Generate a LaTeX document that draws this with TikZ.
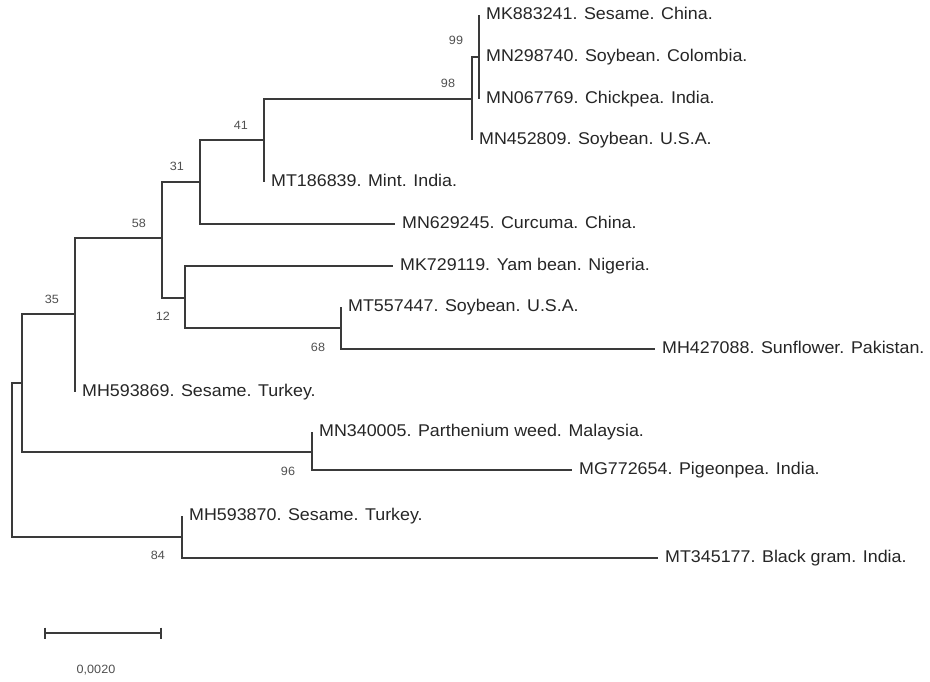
\documentclass[tikz,border=0pt]{standalone}
\usepackage{fontspec}
\setmainfont[FakeStretch=1.05]{Liberation Sans}
\definecolor{treeline}{HTML}{3A3A3A}
\definecolor{leaftext}{HTML}{262626}
\definecolor{boottext}{HTML}{505050}
\begin{document}
\begin{tikzpicture}[x=1pt,y=-1pt,
  branch/.style={draw=treeline,line width=1.2pt},
  leaf/.style={anchor=base west,inner sep=0pt,xshift=7pt,yshift=-4.6pt,text=leaftext,font=\fontsize{17}{20}\selectfont},
  boot/.style={anchor=center,inner sep=0pt,text=boottext,font=\fontsize{12}{14}\selectfont}]
\useasboundingbox[fill=white] (0,0) rectangle (930,681);
% internal nodes (x, y where the parent branch enters)
\coordinate (root) at (12,460);
\coordinate (nA)   at (22,383);
\coordinate (n35)  at (75,314);
\coordinate (n58)  at (162,238);
\coordinate (n31)  at (200,182);
\coordinate (n41)  at (264,140);
\coordinate (n98)  at (472,99);
\coordinate (n99)  at (479,57);
\coordinate (n12)  at (185,298);
\coordinate (n68)  at (341,328);
\coordinate (n96)  at (312,452);
\coordinate (n84)  at (182,537);
% leaf tips
\coordinate (lMK883241) at (479,15);
\coordinate (lMN298740) at (479,57);
\coordinate (lMN067769) at (479,99);
\coordinate (lMN452809) at (472,140);
\coordinate (lMT186839) at (264,182);
\coordinate (lMN629245) at (395,224);
\coordinate (lMK729119) at (393,266);
\coordinate (lMT557447) at (341,307);
\coordinate (lMH427088) at (655,349);
\coordinate (lMH593869) at (75,392);
\coordinate (lMN340005) at (312,432);
\coordinate (lMG772654) at (572,470);
\coordinate (lMH593870) at (182,516);
\coordinate (lMT345177) at (658,558);
% branches
\draw[branch] (root) |- (nA);
\draw[branch] (root) |- (n84);
\draw[branch] (nA) |- (n35);
\draw[branch] (nA) |- (n96);
\draw[branch] (n35) |- (n58);
\draw[branch] (n35) |- (lMH593869);
\draw[branch] (n58) |- (n31);
\draw[branch] (n58) |- (n12);
\draw[branch] (n31) |- (n41);
\draw[branch] (n31) |- (lMN629245);
\draw[branch] (n41) |- (n98);
\draw[branch] (n41) |- (lMT186839);
\draw[branch] (n98) |- (n99);
\draw[branch] (n98) |- (lMN452809);
\draw[branch] (n99) |- (lMK883241);
\draw[branch] (n99) |- (lMN298740);
\draw[branch] (n99) |- (lMN067769);
\draw[branch] (n12) |- (lMK729119);
\draw[branch] (n12) |- (n68);
\draw[branch] (n68) |- (lMT557447);
\draw[branch] (n68) |- (lMH427088);
\draw[branch] (n96) |- (lMN340005);
\draw[branch] (n96) |- (lMG772654);
\draw[branch] (n84) |- (lMH593870);
\draw[branch] (n84) |- (lMT345177);
% leaf labels
\node[leaf] (tMK883241) at (lMK883241) {MK883241. Sesame. China.};
\node[leaf] (tMN298740) at (lMN298740) {MN298740. Soybean. Colombia.};
\node[leaf] (tMN067769) at (lMN067769) {MN067769. Chickpea. India.};
\node[leaf] (tMN452809) at (lMN452809) {MN452809. Soybean. U.S.A.};
\node[leaf] (tMT186839) at (lMT186839) {MT186839. Mint. India.};
\node[leaf] (tMN629245) at (lMN629245) {MN629245. Curcuma. China.};
\node[leaf] (tMK729119) at (lMK729119) {MK729119. Yam bean. Nigeria.};
\node[leaf] (tMT557447) at (lMT557447) {MT557447. Soybean. U.S.A.};
\node[leaf] (tMH427088) at (lMH427088) {MH427088. Sunflower. Pakistan.};
\node[leaf] (tMH593869) at (lMH593869) {MH593869. Sesame. Turkey.};
\node[leaf] (tMN340005) at (lMN340005) {MN340005. Parthenium weed. Malaysia.};
\node[leaf] (tMG772654) at (lMG772654) {MG772654. Pigeonpea. India.};
\node[leaf] (tMH593870) at (lMH593870) {MH593870. Sesame. Turkey.};
\node[leaf] (tMT345177) at (lMT345177) {MT345177. Black gram. India.};
% bootstrap values
\node[boot] (b99) at (456,40) {99};
\node[boot] (b98) at (448,83) {98};
\node[boot] (b41) at (241,125) {41};
\node[boot] (b31) at (177,166) {31};
\node[boot] (b58) at (139,223) {58};
\node[boot] (b35) at (52,299) {35};
\node[boot] (b12) at (163,316) {12};
\node[boot] (b68) at (318,347) {68};
\node[boot] (b96) at (288,471) {96};
\node[boot] (b84) at (158,555) {84};
% scale bar
\coordinate (sbL) at (45,633);
\coordinate (sbR) at (161,633);
\draw[branch] (sbL) -- (sbR);
\draw[branch] ([yshift=5.5pt]sbL) -- ([yshift=-5.5pt]sbL);
\draw[branch] ([yshift=5.5pt]sbR) -- ([yshift=-5.5pt]sbR);
\node[boot] (sblabel) at (96,670) {0,0020};
\end{tikzpicture}
\end{document}
